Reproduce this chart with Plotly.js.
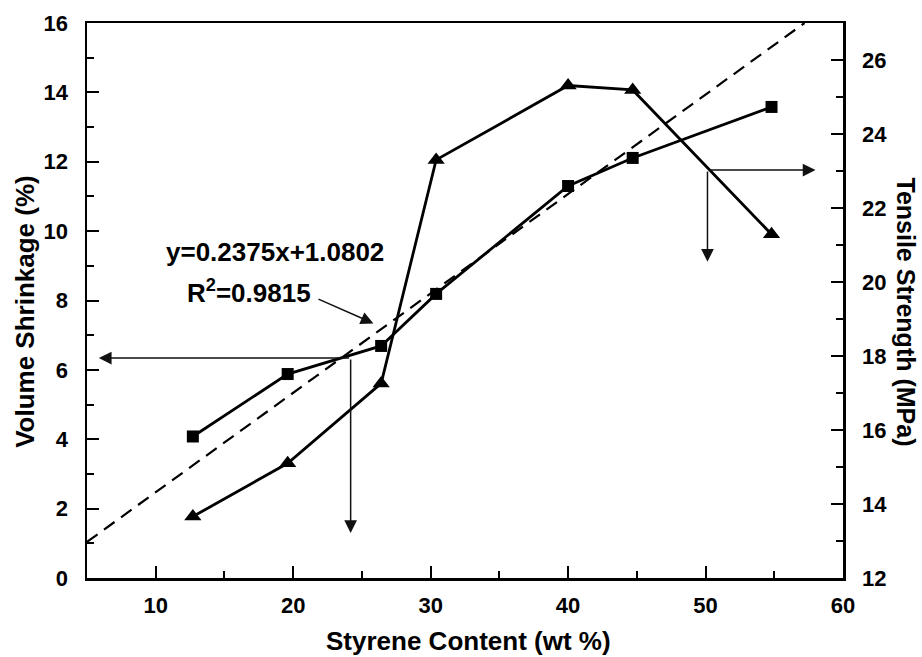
<!DOCTYPE html>
<html>
<head>
<meta charset="utf-8">
<script src="https://cdn.plot.ly/plotly-3.0.1.min.js"></script>
<style>html,body{margin:0;padding:0;background:#fff;}#chart{width:922px;height:657px;}</style>
</head>
<body>
<div id="chart"></div>
<script>
// Styrene content (wt %)
const styrene = [12.7, 19.6, 26.4, 30.4, 40.0, 44.7, 54.8];
// Volume shrinkage (%) - squares, left axis
const shrinkage = [4.08, 5.88, 6.69, 8.19, 11.30, 12.11, 13.58];
// Tensile strength (MPa) - triangles, right axis
const tensile = [13.66, 15.10, 17.26, 23.30, 25.31, 25.19, 21.29];
// Linear fit line (dashed) as drawn
const fitX = [5, 57.2];
const fitY = [1.04, 16];

const F = 'Liberation Sans, Arial, sans-serif';
const ink = '#000';

const traces = [
  {x: fitX, y: fitY, mode: 'lines', yaxis: 'y',
   line: {color: ink, width: 2.2, dash: '13px,8px'}, hoverinfo: 'skip'},
  {x: styrene, y: shrinkage, mode: 'lines+markers', yaxis: 'y',
   line: {color: ink, width: 2.8},
   marker: {symbol: 'square', size: 12, color: ink}},
  {x: styrene, y: tensile, mode: 'lines+markers', yaxis: 'y2',
   line: {color: ink, width: 2.8},
   marker: {symbol: 'triangle-up', size: 15, color: ink}}
];

function arrow(x, y, ax, ay) {
  return {x: x, y: y, ax: ax, ay: ay, xref: 'x', yref: 'y', axref: 'x', ayref: 'y',
    text: '', showarrow: true, arrowhead: 2, arrowsize: 1.7, arrowwidth: 1.5,
    arrowcolor: '#111', standoff: 0, startstandoff: 0};
}

const annotations = [
  {x: 18.7, y: 9.41, xref: 'x', yref: 'y', text: 'y=0.2375x+1.0802', showarrow: false,
   xanchor: 'center', yanchor: 'middle', font: {family: F, size: 26, weight: 'bold', color: ink}},
  {x: 16.82, y: 8.25, xref: 'x', yref: 'y', text: 'R<sup>2</sup>=0.9815', showarrow: false,
   xanchor: 'center', yanchor: 'middle', font: {family: F, size: 26, weight: 'bold', color: ink}},
  arrow(25.84, 7.34, 21.73, 8.06),
  arrow(5.86, 6.34, 24.18, 6.34),
  arrow(24.18, 1.30, 24.18, 6.34),
  arrow(58.0, 11.76, 50.14, 11.76),
  arrow(50.14, 9.12, 50.14, 11.76),
  {xref: 'paper', yref: 'paper', x: 0.504, y: -0.113, text: 'Styrene Content (wt %)',
   showarrow: false, xanchor: 'center', yanchor: 'middle',
   font: {family: F, size: 26, weight: 'bold', color: ink}},
  {xref: 'paper', yref: 'paper', x: -0.083, y: 0.48, text: 'Volume Shrinkage (%)',
   textangle: -90, showarrow: false, xanchor: 'center', yanchor: 'middle',
   font: {family: F, size: 26, weight: 'bold', color: ink}},
  {xref: 'paper', yref: 'paper', x: 1.0835, y: 0.48, text: 'Tensile Strength (MPa)',
   textangle: 90, showarrow: false, xanchor: 'center', yanchor: 'middle',
   font: {family: F, size: 25, weight: 'bold', color: ink}}
];

const tickfont = {family: F, size: 22, weight: 'bold', color: ink};

const layout = {
  width: 922, height: 657,
  margin: {l: 87, r: 79, t: 23, b: 79},
  paper_bgcolor: '#fff', plot_bgcolor: '#fff',
  showlegend: false,
  xaxis: {range: [5, 60], dtick: 10, tick0: 0, showgrid: false, zeroline: false,
    showline: true, linewidth: 2.5, linecolor: ink, mirror: true,
    ticks: 'inside', ticklen: 12, tickwidth: 2, tickcolor: ink,
    minor: {dtick: 5, tick0: 0, ticks: 'inside', ticklen: 7, tickwidth: 2, tickcolor: ink},
    tickfont: tickfont, ticklabelstandoff: 6},
  yaxis: {range: [0, 16], dtick: 2, tick0: 0, showgrid: false, zeroline: false,
    showline: true, linewidth: 2.5, linecolor: ink,
    ticks: 'inside', ticklen: 12, tickwidth: 2, tickcolor: ink,
    minor: {dtick: 1, tick0: 0, ticks: 'inside', ticklen: 7, tickwidth: 2, tickcolor: ink},
    tickfont: tickfont, ticklabelstandoff: 12},
  yaxis2: {range: [12, 27], dtick: 2, tick0: 12, overlaying: 'y', side: 'right',
    showgrid: false, zeroline: false,
    showline: true, linewidth: 2.5, linecolor: ink,
    ticks: 'inside', ticklen: 12, tickwidth: 2, tickcolor: ink,
    minor: {dtick: 1, tick0: 12, ticks: 'inside', ticklen: 7, tickwidth: 2, tickcolor: ink},
    tickfont: tickfont, ticklabelstandoff: 12},
  annotations: annotations
};

Plotly.newPlot('chart', traces, layout, {staticPlot: true, displayModeBar: false});
</script>
</body>
</html>
